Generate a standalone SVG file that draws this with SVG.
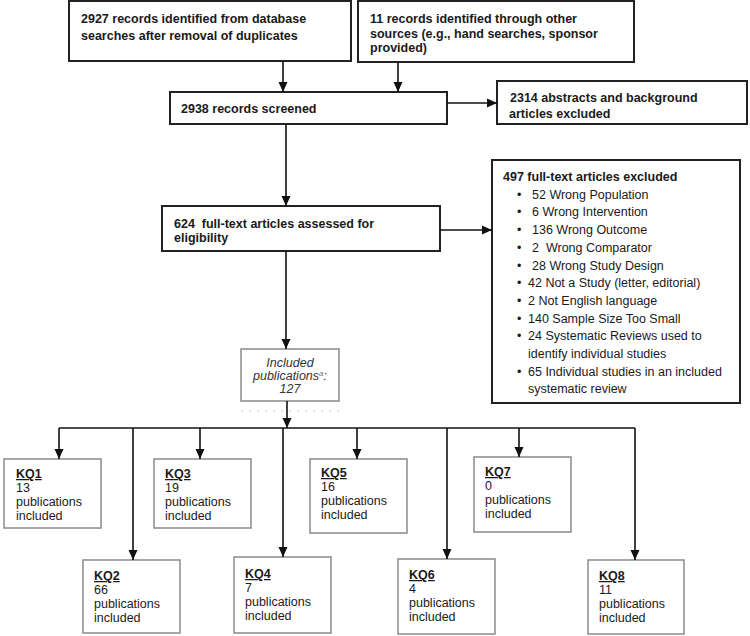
<svg xmlns="http://www.w3.org/2000/svg" width="750" height="636" viewBox="0 0 750 636">
<defs>
<marker id="ah" markerWidth="10" markerHeight="10" refX="10" refY="5" orient="auto" markerUnits="userSpaceOnUse"><path d="M0,0.5 L10,5 L0,9.5 z" fill="#111"/></marker>
</defs>
<style>
.main{fill:#fff;stroke:#222;stroke-width:2}
.kq{fill:#fff;stroke:#8a8a8a;stroke-width:1.5}
.t{font-family:"Liberation Sans",Arial,sans-serif;font-size:12.5px;fill:#1a1a1a}
.b{font-weight:bold}
.i{font-style:italic;fill:#333}
.u{font-weight:bold;text-decoration:underline}
.c{stroke:#111;stroke-width:1.6;fill:none}
</style>
<rect width="750" height="636" fill="#fff"/>
<g id="n-db">
<rect class="main" x="69" y="1" width="282" height="60"/>
<text class="t b" x="81" y="23">2927 records identified from database</text>
<text class="t b" x="81" y="40">searches after removal of duplicates</text>
</g>
<g id="n-other">
<rect class="main" x="358" y="1" width="276" height="61"/>
<text class="t b" x="370" y="23">11 records identified through other</text>
<text class="t b" x="370" y="37.5">sources (e.g., hand searches, sponsor</text>
<text class="t b" x="370" y="52">provided)</text>
</g>
<g id="n-screened">
<rect class="main" x="170" y="92" width="277" height="32"/>
<text class="t b" x="181" y="113">2938 records screened</text>
</g>
<g id="n-abstracts">
<rect class="main" x="497" y="81" width="250" height="43"/>
<text class="t b" x="510" y="102"> 2314 abstracts and background</text>
<text class="t b" x="509" y="118">articles excluded</text>
</g>
<g id="n-fulltext">
<rect class="main" x="162" y="206" width="278" height="45"/>
<text class="t b" x="174" y="228" xml:space="preserve">624  full-text articles assessed for</text>
<text class="t b" x="174" y="242">eligibility</text>
</g>
<g id="n-excluded">
<rect class="main" x="492" y="160" width="248" height="243"/>
<text class="t b" x="503" y="181">497 full-text articles excluded</text>
<g class="t">
<text x="517" y="198.7">•</text><text x="532" y="198.7">52 Wrong Population</text>
<text x="517" y="216.4">•</text><text x="532" y="216.4">6 Wrong Intervention</text>
<text x="517" y="234.1">•</text><text x="532" y="234.1">136 Wrong Outcome</text>
<text x="517" y="251.8">•</text><text x="532" y="251.8" xml:space="preserve">2  Wrong Comparator</text>
<text x="517" y="269.5">•</text><text x="532" y="269.5">28 Wrong Study Design</text>
<text x="517" y="287.2">•</text><text x="528" y="287.2">42 Not a Study (letter, editorial)</text>
<text x="517" y="304.9">•</text><text x="528" y="304.9">2 Not English language</text>
<text x="517" y="322.6">•</text><text x="528" y="322.6">140 Sample Size Too Small</text>
<text x="517" y="340.3">•</text><text x="528" y="340.3">24 Systematic Reviews used to</text>
<text x="528" y="358">identify individual studies</text>
<text x="517" y="375.7">•</text><text x="528" y="375.7">65 Individual studies in an included</text>
<text x="528" y="393.4">systematic review</text>
</g>
</g>
<g id="n-included">
<rect class="kq" x="241" y="349" width="98" height="52"/>
<text class="t i" x="290" y="367" text-anchor="middle">Included</text>
<text class="t i" x="290" y="380" text-anchor="middle">publications<tspan font-size="8" dy="-4" fill="#777">a</tspan><tspan dy="4">:</tspan></text>
<text class="t i" x="290" y="393" text-anchor="middle">127</text>
<line x1="241" y1="411" x2="339" y2="411" stroke="#ccc" stroke-width="1" stroke-dasharray="2,6"/>
</g>
<g id="n-kq1">
<rect class="kq" x="4" y="459" width="97" height="69"/>
<text class="t u" x="16" y="478">KQ1</text>
<text class="t" x="16" y="492">13</text>
<text class="t" x="16" y="506">publications</text>
<text class="t" x="16" y="520">included</text>
</g>
<g id="n-kq2">
<rect class="kq" x="83" y="560" width="97" height="73"/>
<text class="t u" x="94" y="580">KQ2</text>
<text class="t" x="94" y="594">66</text>
<text class="t" x="94" y="608">publications</text>
<text class="t" x="94" y="622">included</text>
</g>
<g id="n-kq3">
<rect class="kq" x="154" y="459" width="97" height="69"/>
<text class="t u" x="165" y="478">KQ3</text>
<text class="t" x="165" y="492">19</text>
<text class="t" x="165" y="506">publications</text>
<text class="t" x="165" y="520">included</text>
</g>
<g id="n-kq4">
<rect class="kq" x="234" y="557" width="97" height="76"/>
<text class="t u" x="245" y="578">KQ4</text>
<text class="t" x="245" y="592">7</text>
<text class="t" x="245" y="606">publications</text>
<text class="t" x="245" y="620">included</text>
</g>
<g id="n-kq5">
<rect class="kq" x="310" y="459" width="97" height="74"/>
<text class="t u" x="321" y="477">KQ5</text>
<text class="t" x="321" y="491">16</text>
<text class="t" x="321" y="505">publications</text>
<text class="t" x="321" y="519">included</text>
</g>
<g id="n-kq6">
<rect class="kq" x="398" y="559" width="97" height="75"/>
<text class="t u" x="409" y="579">KQ6</text>
<text class="t" x="409" y="593">4</text>
<text class="t" x="409" y="607">publications</text>
<text class="t" x="409" y="621">included</text>
</g>
<g id="n-kq7">
<rect class="kq" x="474" y="457" width="97" height="75"/>
<text class="t u" x="485" y="476">KQ7</text>
<text class="t" x="485" y="490">0</text>
<text class="t" x="485" y="504">publications</text>
<text class="t" x="485" y="518">included</text>
</g>
<g id="n-kq8">
<rect class="kq" x="588" y="560" width="96" height="74"/>
<text class="t u" x="599" y="580">KQ8</text>
<text class="t" x="599" y="594">11</text>
<text class="t" x="599" y="608">publications</text>
<text class="t" x="599" y="622">included</text>
</g>
<g id="connectors">
<line class="c" x1="283" y1="61" x2="283" y2="92" marker-end="url(#ah)"/>
<line class="c" x1="398" y1="62" x2="398" y2="92" marker-end="url(#ah)"/>
<line class="c" x1="447" y1="103" x2="497" y2="103" marker-end="url(#ah)"/>
<line class="c" x1="286" y1="124" x2="286" y2="206" marker-end="url(#ah)"/>
<line class="c" x1="440" y1="230" x2="492" y2="230" marker-end="url(#ah)"/>
<line class="c" x1="286" y1="251" x2="286" y2="349" marker-end="url(#ah)"/>
<line class="c" x1="287" y1="401" x2="287" y2="428" marker-end="url(#ah)"/>
<line class="c" x1="59" y1="428" x2="635" y2="428"/>
<line class="c" x1="59" y1="428" x2="59" y2="459" marker-end="url(#ah)"/>
<line class="c" x1="133" y1="428" x2="133" y2="560" marker-end="url(#ah)"/>
<line class="c" x1="200" y1="428" x2="200" y2="459" marker-end="url(#ah)"/>
<line class="c" x1="283" y1="428" x2="283" y2="557" marker-end="url(#ah)"/>
<line class="c" x1="357" y1="428" x2="357" y2="459" marker-end="url(#ah)"/>
<line class="c" x1="447" y1="428" x2="447" y2="559" marker-end="url(#ah)"/>
<line class="c" x1="519" y1="428" x2="519" y2="457" marker-end="url(#ah)"/>
<line class="c" x1="635" y1="428" x2="635" y2="560" marker-end="url(#ah)"/>
</g>
</svg>
